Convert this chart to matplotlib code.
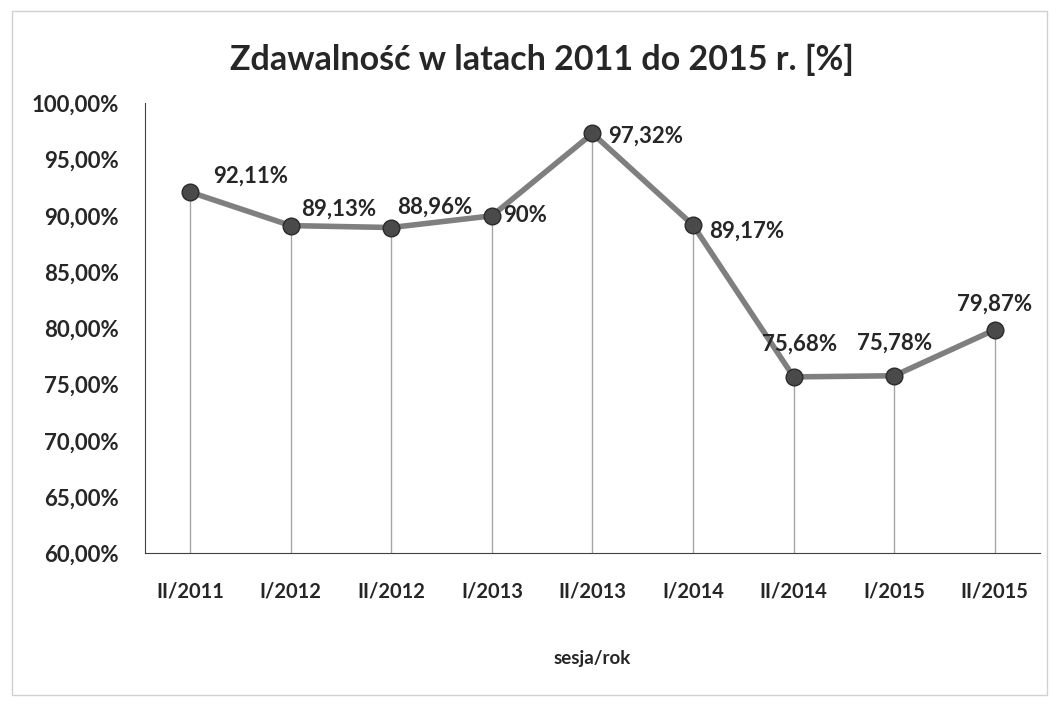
import matplotlib.pyplot as plt
from matplotlib.patches import Rectangle
from matplotlib.ticker import FuncFormatter

# data
sessions = ["II/2011", "I/2012", "II/2012", "I/2013", "II/2013",
            "I/2014", "II/2014", "I/2015", "II/2015"]
pass_rate = [92.11, 89.13, 88.96, 90.0, 97.32, 89.17, 75.68, 75.78, 79.87]
point_labels = ["92,11%", "89,13%", "88,96%", "90%", "97,32%",
                "89,17%", "75,68%", "75,78%", "79,87%"]

plt.rcParams["font.family"] = ["Lato", "DejaVu Sans"]
plt.rcParams["font.weight"] = "bold"

fig = plt.figure(figsize=(10.58, 7.03), dpi=100)
ax = fig.add_axes([0.137, 0.213, 0.846, 0.64])

# outer chart border
fig.patches.append(Rectangle((0.011, 0.012), 0.979, 0.972, transform=fig.transFigure,
                             fill=False, edgecolor="#d0d0d0", linewidth=1.0))

x = list(range(len(sessions)))

# drop lines
ax.vlines(x, 60, pass_rate, color="#a6a6a6", linewidth=1.0, zorder=1)

ax.plot(x, pass_rate, color="#7f7f7f", linewidth=4, zorder=2)
ax.plot(x, pass_rate, linestyle="none", marker="o", markersize=12,
        markerfacecolor="#4a4a4a", markeredgecolor="#2a2a2a", zorder=3)

# label offsets in pixels (dx, dy), label anchored by its left edge or centre
offsets = [(23, 16), (10, 16), (6, 20), (11, 0), (16, -3),
           (16, -6), (6, 33), (0, 33), (0, 26)]
has = ["left", "left", "left", "left", "left", "left", "center", "center", "center"]
for xi, yi, lab, off, ha in zip(x, pass_rate, point_labels, offsets, has):
    ax.annotate(lab, (xi, yi), xytext=off, textcoords="offset pixels",
                ha=ha, va="center", fontsize=16, color="#262626")

ax.set_xlim(-0.45, len(sessions) - 0.55)
ax.set_ylim(60, 100)
ax.set_yticks(range(60, 101, 5))
ax.yaxis.set_major_formatter(FuncFormatter(lambda v, p: f"{v:.2f}%".replace(".", ",")))
ax.set_xticks(x)
ax.set_xticklabels(sessions)
ax.tick_params(axis="both", length=0, labelcolor="#262626")
ax.tick_params(axis="x", pad=20, labelsize=14.5)
ax.tick_params(axis="y", pad=19, labelsize=16)

for side in ["top", "right"]:
    ax.spines[side].set_visible(False)
ax.spines["left"].set_color("#404040")
ax.spines["bottom"].set_color("#404040")

ax.set_xlabel("sesja/rok", fontsize=13.5, fontweight="bold", labelpad=35, color="#262626")
fig.text(0.512, 0.915, "Zdawalność w latach 2011 do 2015 r. [%]", ha="center",
         va="center", fontsize=24.5, color="#262626")

fig.savefig("out.png", dpi=100)
